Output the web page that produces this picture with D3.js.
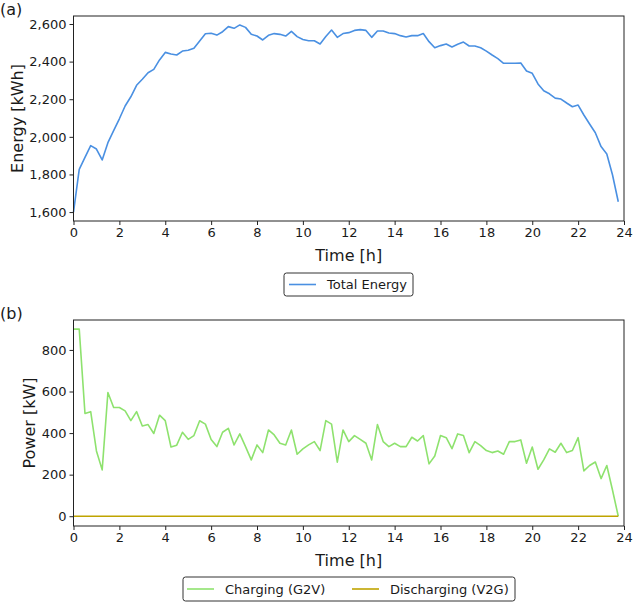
<!DOCTYPE html>
<html><head><meta charset="utf-8">
<script src="https://cdn.jsdelivr.net/npm/d3@7"></script>
<style>body{margin:0;background:#fff}svg{display:block}text{font-family:"DejaVu Sans",sans-serif;fill:#1a1a1a}</style>
</head><body><svg id="c" width="633" height="603"></svg>
<script>
const times = d3.range(96).map(i => i * 0.25);
const totalEnergy = [1600,1827,1891,1953,1935,1877,1969,2033,2096,2164,2213,2274,2306,2341,2359,2409,
2449,2440,2435,2456,2460,2471,2510,2548,2551,2541,2559,2586,2577,2595,2582,2545,
2536,2515,2540,2549,2545,2536,2561,2533,2518,2511,2511,2494,2533,2568,2529,2549,
2554,2566,2570,2566,2529,2563,2563,2552,2549,2538,2531,2538,2538,2549,2506,2474,
2485,2494,2478,2492,2504,2483,2483,2474,2456,2435,2416,2391,2391,2391,2393,2350,
2338,2281,2245,2229,2206,2201,2180,2160,2169,2116,2068,2022,1948,1909,1797,1655];
const charging = [900,900,494,503,314,223,595,523,523,507,460,503,434,441,398,486,
460,333,342,404,370,388,459,443,369,335,404,423,343,396,335,271,
343,306,415,391,351,343,415,298,324,343,359,316,460,443,260,415,
359,388,370,351,271,441,359,335,351,335,335,380,362,388,252,290,
388,378,325,396,388,306,359,340,316,306,314,298,359,359,367,255,
333,226,271,324,308,351,306,316,378,218,244,261,181,244,125,0];
const discharging = times.map(() => 0);
const xTicks = [0,2,4,6,8,10,12,14,16,18,20,22,24];
const energyTicks = [1600,1800,2000,2200,2400,2600];
const powerTicks = [0,200,400,600,800];

const svg = d3.select("#c");
const L = 73.5, R = 624;
const fmt = d3.format(",");

function panel(top, bottom, yDomain, yTicks, yFmt, series, ylabel, ylabelX, letter, letterY) {
  const x = d3.scaleLinear().domain([0,24]).range([L,R]);
  const y = d3.scaleLinear().domain(yDomain).range([bottom, top]);
  const g = svg.append("g");
  const xa = g.append("g").attr("transform",`translate(0,${bottom})`)
    .call(d3.axisBottom(x).tickValues(xTicks).tickSize(4).tickPadding(3).tickFormat(d3.format("d")));
  const ya = g.append("g").attr("transform",`translate(${L},0)`)
    .call(d3.axisLeft(y).tickValues(yTicks).tickSize(4).tickPadding(3).tickFormat(yFmt));
  [xa,ya].forEach(a => {
    a.select(".domain").remove();
    a.selectAll("line").attr("stroke","#222").attr("stroke-width",1);
    a.selectAll("text").style("font-size","13px").attr("fill","#1a1a1a");
  });
  series.forEach(s => {
    g.append("path").datum(s.values)
      .attr("fill","none").attr("stroke",s.color).attr("stroke-width",1.6)
      .attr("stroke-linejoin","round")
      .attr("d", d3.line().x((d,i)=>x(times[i])).y(d=>y(d)));
  });
  g.append("rect").attr("x",L).attr("y",top).attr("width",R-L).attr("height",bottom-top)
    .attr("fill","none").attr("stroke","#222").attr("stroke-width",1);
  g.append("text").attr("x",(L+R)/2).attr("y",bottom+40).attr("text-anchor","middle")
    .style("font-size","16px").text("Time [h]");
  g.append("text").attr("transform",`translate(${ylabelX},${(top+bottom)/2}) rotate(-90)`)
    .attr("text-anchor","middle").style("font-size","16px").text(ylabel);
  g.append("text").attr("x",0).attr("y",letterY).style("font-size","16px").text(letter);
  return {x,y};
}

panel(16, 221, [1552.5,2642.5], energyTicks, fmt,
  [{values: totalEnergy, color:"#4a90e2"}], "Energy [kWh]", 23, "(a)", 15);
panel(320, 526, [-47,944], powerTicks, d3.format("d"),
  [{values: charging, color:"#8ee26e"},{values: discharging, color:"#bfa400"}], "Power [kW]", 35, "(b)", 319);

function legend(x0, y0, w, h, items) {
  const g = svg.append("g");
  g.append("rect").attr("x",x0).attr("y",y0).attr("width",w).attr("height",h).attr("rx",2.5)
    .attr("fill","#fff").attr("stroke","#333").attr("stroke-width",1);
  items.forEach(it => {
    g.append("line").attr("x1",x0+it.dx).attr("x2",x0+it.dx+27).attr("y1",y0+h/2).attr("y2",y0+h/2)
      .attr("stroke",it.color).attr("stroke-width",1.6);
    g.append("text").attr("x",x0+it.dx+38).attr("y",y0+h/2).attr("dy","0.36em")
      .style("font-size","13px").text(it.label);
  });
}
legend(284, 273, 129, 23, [{dx:5, color:"#4a90e2", label:"Total Energy"}]);
legend(183, 577, 332, 24, [{dx:4, color:"#8ee26e", label:"Charging (G2V)"},{dx:169, color:"#bfa400", label:"Discharging (V2G)"}]);
</script></body></html>
